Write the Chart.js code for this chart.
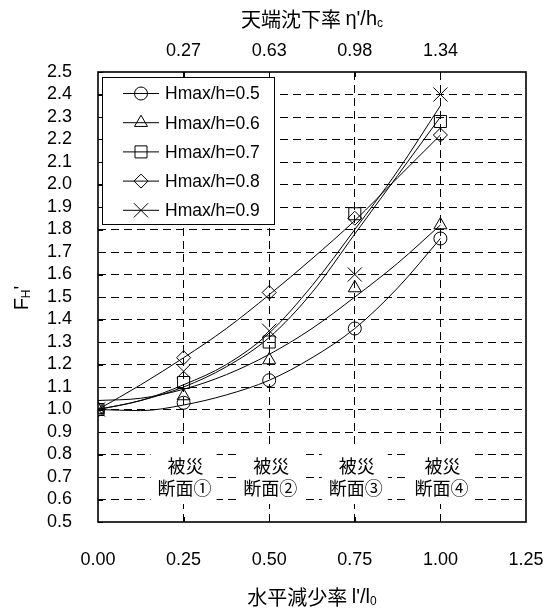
<!DOCTYPE html>
<html>
<head>
<meta charset="utf-8">
<script src="https://cdn.jsdelivr.net/npm/chart.js@4.4.1/dist/chart.umd.min.js"></script>
<style>
  html, body { margin: 0; padding: 0; background: #fff; }
  #wrap { width: 543px; height: 613px; }
</style>
</head>
<body>
<div id="wrap"><canvas id="chart"></canvas></div>
<script>
// horizontal reduction ratio l'/l0 of the damaged sections
const xValues = [0, 0.25, 0.5, 0.75, 1.0];
const seriesLabels = ["Hmax/h=0.5", "Hmax/h=0.6", "Hmax/h=0.7", "Hmax/h=0.8", "Hmax/h=0.9"];
const h05 = [1.00, 1.03, 1.13, 1.36, 1.76];
const h06 = [1.00, 1.06, 1.22, 1.54, 1.82];
const h07 = [1.00, 1.12, 1.30, 1.87, 2.28];
const h08 = [1.00, 1.23, 1.52, 1.85, 2.22];
const h09 = [1.00, 1.17, 1.35, 1.60, 2.40];

// fitted curves
const trendX = [0, 0.125, 0.25, 0.375, 0.5, 0.625, 0.75, 0.875, 1.0];
const trend05 = [1.00, 0.995, 1.02, 1.065, 1.13, 1.23, 1.36, 1.54, 1.76];
const trend06 = [1.04, 1.05, 1.09, 1.155, 1.245, 1.36, 1.50, 1.65, 1.82];
const trend07 = [1.00, 1.04, 1.10, 1.19, 1.32, 1.52, 1.78, 2.04, 2.30];
const trend08 = [1.00, 1.11, 1.23, 1.36, 1.51, 1.67, 1.84, 2.03, 2.22];
const trend09 = [1.00, 1.04, 1.11, 1.20, 1.34, 1.55, 1.80, 2.06, 2.35];

// top axis: crest settlement ratio at each section
const topTickPos = [0.25, 0.5, 0.75, 1.0];
const topTickLabels = ["0.27", "0.63", "0.98", "1.34"];
const sectionTop = ["被災", "被災", "被災", "被災"];
const sectionBottom = ["断面①", "断面②", "断面③", "断面④"];

const markerStyles = ["circle", "triangle", "rect", "rectRot", "crossRot"];
const markerSizes = [6.5, 7.5, 8.5, 7, 10];

const seriesValues = [h05, h06, h07, h08, h09];
const trendValues = [trend05, trend06, trend07, trend08, trend09];

const latin = '"Liberation Sans", Arial, sans-serif';
const jp = '"Noto Sans CJK JP", sans-serif';

Chart.defaults.font.family = latin;
Chart.defaults.font.size = 18;
Chart.defaults.color = "#000";

const datasets = [];
seriesValues.forEach(function (vals, i) {
    datasets.push({
        label: seriesLabels[i],
        data: vals.map(function (v, j) { return { x: xValues[j], y: v }; }),
        showLine: false,
        pointStyle: markerStyles[i],
        pointRadius: markerSizes[i],
        pointBorderColor: "#000",
        pointBackgroundColor: "rgba(0,0,0,0)",
        pointBorderWidth: 1,
        order: 0
    });
});
trendValues.forEach(function (vals, i) {
    datasets.push({
        label: "trend " + seriesLabels[i],
        data: vals.map(function (v, j) { return { x: trendX[j], y: v }; }),
        borderColor: "#000",
        borderWidth: 1,
        pointRadius: 0,
        cubicInterpolationMode: "monotone",
        fill: false,
        order: 1
    });
});

function drawMarker(ctx, style, r, x, y) {
    ctx.save();
    ctx.strokeStyle = "#000";
    ctx.fillStyle = "rgba(0,0,0,0)";
    ctx.lineWidth = 1;
    Chart.helpers.drawPoint(ctx, { pointStyle: style, radius: r, borderWidth: 1 }, x, y);
    ctx.restore();
}

// draws pieces of text one after another, some as subscripts
function drawParts(ctx, parts, x, y) {
    let w = 0;
    parts.forEach(function (p) { ctx.font = p.font; w += ctx.measureText(p.t).width; });
    let cx = x - w / 2;
    parts.forEach(function (p) {
        ctx.font = p.font;
        ctx.fillText(p.t, cx, y + (p.dy || 0));
        cx += ctx.measureText(p.t).width;
    });
}

const decor = {
    id: "decor",
    beforeDatasetsDraw(chart) {
        const { ctx, scales: { x, y } } = chart;
        ctx.save();
        ctx.textAlign = "center";
        ctx.textBaseline = "middle";
        ctx.font = "18px " + jp;
        topTickPos.forEach(function (v, i) {
            const px = x.getPixelForValue(v);
            const t = y.getPixelForValue(0.845);
            const b = y.getPixelForValue(0.58);
            ctx.fillStyle = "#fff";
            ctx.fillRect(px - 33, t, 66, b - t);
            ctx.fillStyle = "#000";
            ctx.fillText(sectionTop[i], px + 2, y.getPixelForValue(0.748));
            ctx.fillText(sectionBottom[i], px + 1, y.getPixelForValue(0.65));
        });
        ctx.restore();
    },
    afterDatasetsDraw(chart) {
        const { ctx, chartArea: a, scales: { x, y } } = chart;
        ctx.save();
        ctx.strokeStyle = "#000";
        // inward tick marks
        ctx.lineWidth = 1;
        ctx.beginPath();
        y.ticks.forEach(function (t) {
            const py = Math.round(y.getPixelForValue(t.value)) + 0.5;
            ctx.moveTo(a.left, py);
            ctx.lineTo(a.left + 5, py);
        });
        topTickPos.forEach(function (v) {
            const px = Math.round(x.getPixelForValue(v)) + 0.5;
            ctx.moveTo(px, a.top);
            ctx.lineTo(px, a.top + 5);
            ctx.moveTo(px, a.bottom);
            ctx.lineTo(px, a.bottom - 5);
        });
        ctx.stroke();
        // frame
        ctx.lineWidth = 1.6;
        ctx.strokeRect(a.left, a.top, a.right - a.left, a.bottom - a.top);

        // legend box
        const lx = a.left + 4, ly = a.top + 5, lw = 172, lh = 147;
        ctx.fillStyle = "#fff";
        ctx.fillRect(lx, ly, lw, lh);
        ctx.lineWidth = 1;
        ctx.strokeRect(lx + 0.5, ly + 0.5, lw, lh);
        ctx.font = "17.5px " + latin;
        ctx.textAlign = "left";
        ctx.textBaseline = "middle";
        seriesLabels.forEach(function (lab, i) {
            const iy = ly + 16.5 + i * 29.2;
            ctx.beginPath();
            ctx.moveTo(lx + 21, iy);
            ctx.lineTo(lx + 57, iy);
            ctx.stroke();
            drawMarker(ctx, markerStyles[i], markerSizes[i], lx + 39, iy);
            ctx.fillStyle = "#000";
            ctx.fillText(lab, lx + 63, iy + 1);
        });
        ctx.restore();
    },
    afterDraw(chart) {
        const { ctx, chartArea: a } = chart;
        const cx = (a.left + a.right) / 2;
        ctx.save();
        ctx.fillStyle = "#000";
        ctx.textAlign = "left";
        ctx.textBaseline = "middle";
        drawParts(ctx, [
            { t: "天端沈下率 ", font: "20px " + jp },
            { t: "η'/h", font: "20px " + latin },
            { t: "c", font: "12px " + latin, dy: 5 }
        ], cx, 19);
        drawParts(ctx, [
            { t: "水平減少率 ", font: "20px " + jp },
            { t: "l'/l", font: "20px " + latin },
            { t: "0", font: "12px " + latin, dy: 5 }
        ], cx, 597);
        ctx.translate(22, 298);
        ctx.rotate(-Math.PI / 2);
        drawParts(ctx, [
            { t: "F", font: "20px " + latin },
            { t: "H", font: "12px " + latin, dy: 5 },
            { t: "'", font: "20px " + latin }
        ], 0, 0);
        ctx.restore();
    }
};

function edgeless(lo, hi) {
    return function (c) {
        const v = c.tick ? c.tick.value : null;
        return (Math.abs(v - lo) < 1e-6 || Math.abs(v - hi) < 1e-6) ? "rgba(0,0,0,0)" : "#000";
    };
}

new Chart(document.getElementById("chart"), {
    type: "line",
    data: { datasets: datasets },
    options: {
        responsive: true,
        maintainAspectRatio: false,
        animation: false,
        layout: { padding: { left: 0, right: 0, top: 0, bottom: 0 } },
        plugins: {
            legend: { display: false },
            tooltip: { enabled: false }
        },
        scales: {
            x: {
                type: "linear",
                position: "bottom",
                min: 0,
                max: 1.25,
                ticks: {
                    stepSize: 0.25,
                    padding: 27,
                    maxRotation: 0,
                    autoSkip: false,
                    callback: function (v) { return v.toFixed(2); }
                },
                grid: { color: edgeless(0, 1.25), lineWidth: 1, drawTicks: false },
                border: { display: false, dash: [8, 5] },
                afterFit: function (s) {
                    s.height = 91;
                    s.paddingLeft = 0;
                    s.paddingRight = 17;
                }
            },
            x2: {
                type: "linear",
                position: "top",
                min: 0,
                max: 1.25,
                afterBuildTicks: function (s) {
                    s.ticks = topTickPos.map(function (v) { return { value: v }; });
                },
                ticks: {
                    padding: 10,
                    maxRotation: 0,
                    autoSkip: false,
                    callback: function (v, i) { return topTickLabels[i]; }
                },
                grid: { display: false, drawTicks: false },
                border: { display: false },
                afterFit: function (s) {
                    s.height = 72;
                    s.paddingLeft = 0;
                    s.paddingRight = 0;
                }
            },
            y: {
                type: "linear",
                min: 0.5,
                max: 2.5,
                ticks: {
                    stepSize: 0.1,
                    padding: 26,
                    autoSkip: false,
                    callback: function (v) { return v.toFixed(1); }
                },
                grid: { color: edgeless(0.5, 2.5), lineWidth: 1, drawTicks: false },
                border: { display: false, dash: [8, 5] },
                afterFit: function (s) {
                    s.width = 98;
                    s.paddingTop = 0;
                    s.paddingBottom = 0;
                }
            }
        }
    },
    plugins: [decor]
});
</script>
</body>
</html>
